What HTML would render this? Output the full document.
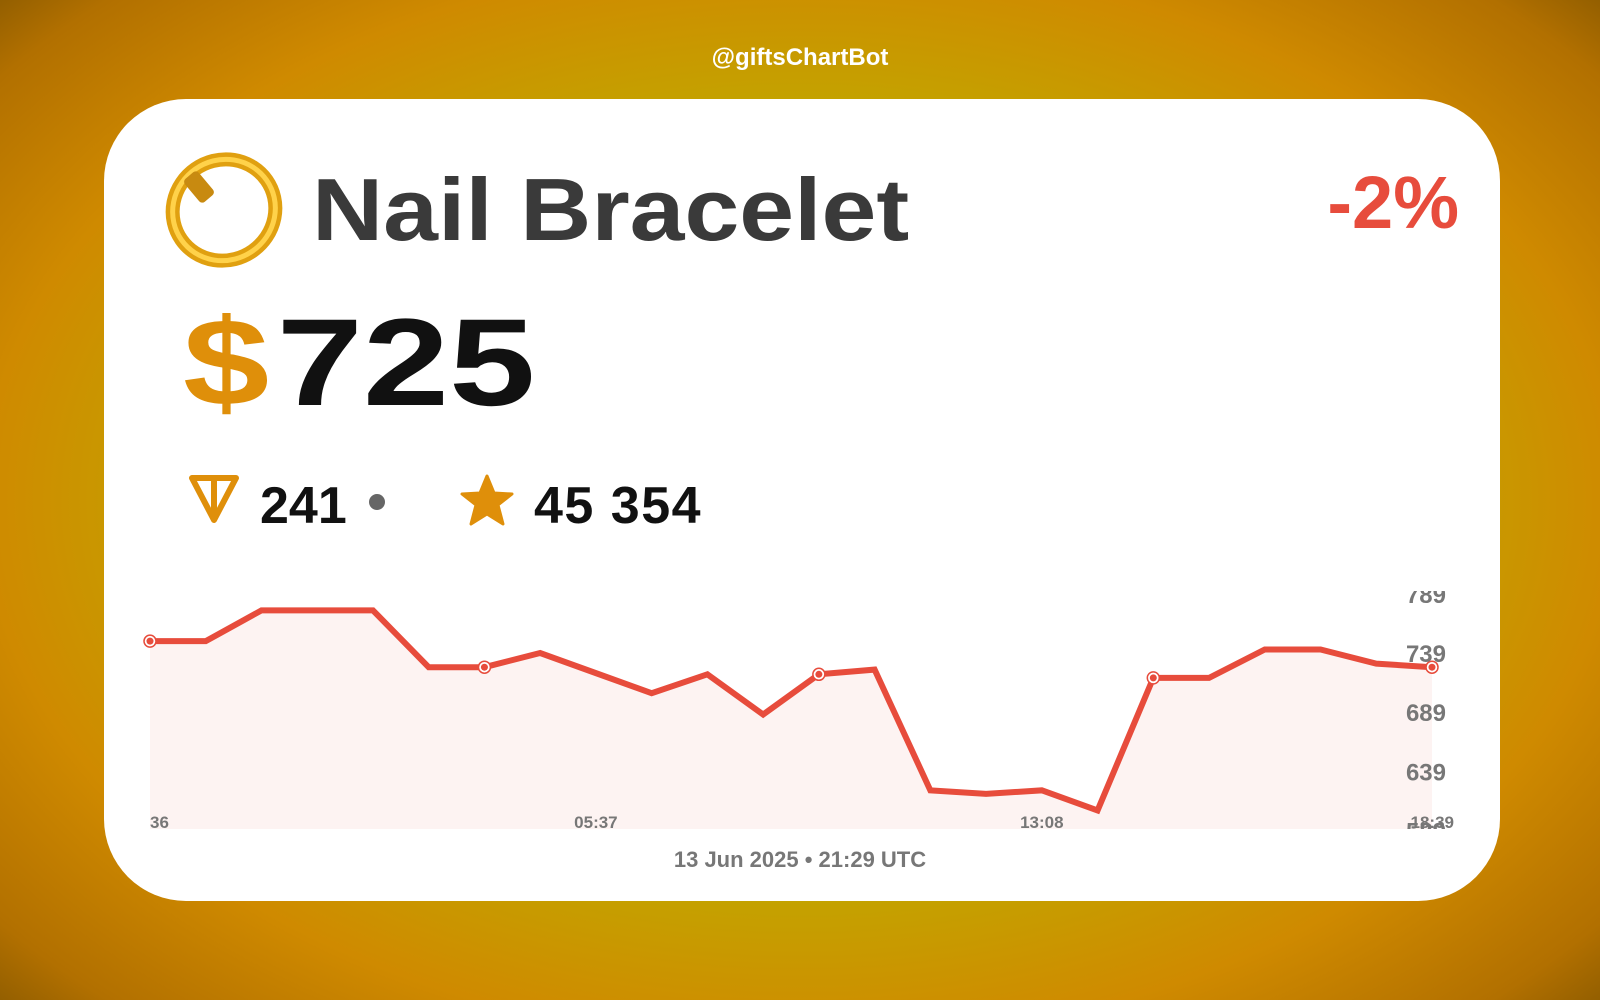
<!DOCTYPE html>
<html><head><meta charset="utf-8"><style>
html,body{margin:0;padding:0}
body{width:1600px;height:1000px;overflow:hidden;position:relative;font-family:"Liberation Sans",sans-serif;
background:radial-gradient(ellipse 75% 80% at 50% 50%,#c4a200 0%,#c4a200 50%,#cf8a00 68%,#b27000 85%,#6a4800 100%);}
.abs{position:absolute}
#card{left:104px;top:99px;width:1396px;height:802px;background:#fff;border-radius:82px}
</style></head><body>
<div class="abs" style="left:0;width:1600px;top:44px;text-align:center;color:#fff;font-weight:bold;font-size:24px">@giftsChartBot</div>
<div id="card" class="abs"></div>
<svg class="abs" style="left:156px;top:140px" width="140" height="135">
<ellipse cx="68" cy="70" rx="52" ry="50" transform="rotate(-35 68 70)" fill="none" stroke="#e0a010" stroke-width="14"/>
<ellipse cx="68" cy="70" rx="52" ry="50" transform="rotate(-35 68 70)" fill="none" stroke="#ffd24a" stroke-width="5"/>
<rect x="34" y="32" width="18" height="30" rx="4" fill="#c88a10" transform="rotate(-40 43 47)"/>
</svg>
<div class="abs" style="left:312px;top:160px;font-size:88px;font-weight:bold;color:#3a3a3a;line-height:100px;transform:scaleX(1.12);transform-origin:left top;white-space:nowrap">Nail Bracelet</div>
<div class="abs" style="right:141px;top:163px;font-size:74px;font-weight:bold;color:#e74c3c;line-height:80px">-2%</div>
<div class="abs" style="left:183px;top:298px;font-size:124px;font-weight:bold;line-height:130px;transform:scaleX(1.25);transform-origin:left top;white-space:nowrap"><span style="color:#df8f0a;margin-right:6px">$</span><span style="color:#111">725</span></div>
<svg class="abs" style="left:188px;top:474px" width="52" height="52">
<path d="M4 4 H48 L26 46 Z M26 4 V46" fill="none" stroke="#df8f0a" stroke-width="6" stroke-linejoin="round"/></svg>
<div class="abs" style="left:260px;top:478px;font-size:52px;font-weight:bold;color:#111;line-height:56px">241</div>
<div class="abs" style="left:369px;top:494px;width:16px;height:16px;border-radius:50%;background:#666"></div>
<svg class="abs" style="left:460px;top:474px" width="54" height="52">
<polygon points="27,2 34,19 52,20 38,31 43,50 27,40 11,50 16,31 2,20 20,19" fill="#df8f0a" stroke="#df8f0a" stroke-width="3" stroke-linejoin="round"/></svg>
<div class="abs" style="left:534px;top:478px;font-size:52px;font-weight:bold;color:#111;line-height:56px;letter-spacing:1.5px">45 354</div>
<svg class="abs" id="chart" style="left:0;top:0" width="1600" height="1000">
<defs><clipPath id="yclip"><rect x="1300" y="591" width="200" height="238"/></clipPath></defs>
<g id="ylabels" clip-path="url(#yclip)"></g>
</svg>
<div class="abs" style="left:0;width:1600px;top:847px;text-align:center;color:#777;font-weight:bold;font-size:22px">13 Jun 2025 • 21:29 UTC</div>
<script>
const values=[749,749,775,775,775,727,727,739,722,705,721,687,721,725,623,620,623,606,718,718,742,742,730,727];
const markerIdx=[0,6,12,18,23];
const yTicks=[789,739,689,639,589];
const xTickIdx=[0,8,16,23];
const xTickLabels=["36","05:37","13:08","18:39"];
const NS="http://www.w3.org/2000/svg";
const svg=document.getElementById('chart');
const yg=document.getElementById('ylabels');
const x0=150,x1=1432,yBottom=829;
const xs=i=>x0+(x1-x0)*i/(values.length-1);
const ys=v=>653+(739-v)*1.184;
function mk(t,a,p){const e=document.createElementNS(NS,t);for(const k in a)e.setAttribute(k,a[k]);(p||svg).appendChild(e);return e;}
let d=values.map((v,i)=>(i?'L':'M')+xs(i)+' '+ys(v)).join(' ');
const area=mk('path',{d:d+` L${x1} ${yBottom} L${x0} ${yBottom} Z`,fill:'#fdf3f2'});


const line=mk('path',{d:d,fill:'none',stroke:'#e74c3c','stroke-width':6,'stroke-linejoin':'miter'});


markerIdx.forEach(i=>{
 const c=mk('circle',{cx:xs(i),cy:ys(values[i]),r:6,fill:'#fff',stroke:'#e74c3c','stroke-width':1.5});
 
 
 mk('circle',{cx:xs(i),cy:ys(values[i]),r:3.5,fill:'#e74c3c'});
});
svg.appendChild(yg);
yTicks.forEach(v=>{
 const t=mk('text',{x:1446,y:ys(v)+9,'text-anchor':'end','font-size':24,'font-weight':'bold',fill:'#777','font-family':'Liberation Sans, sans-serif'},yg);
 t.textContent=v;
 
 
});
xTickIdx.forEach((i,k)=>{
 const anchor=k===0?'start':(k===xTickIdx.length-1?'end':'middle');
 const t=mk('text',{x:k===xTickIdx.length-1?1454:xs(i),y:828,'text-anchor':anchor,'font-size':17,'font-weight':'bold',fill:'#777','font-family':'Liberation Sans, sans-serif'});
 t.textContent=xTickLabels[k];
 
 
});
</script>
</body></html>
